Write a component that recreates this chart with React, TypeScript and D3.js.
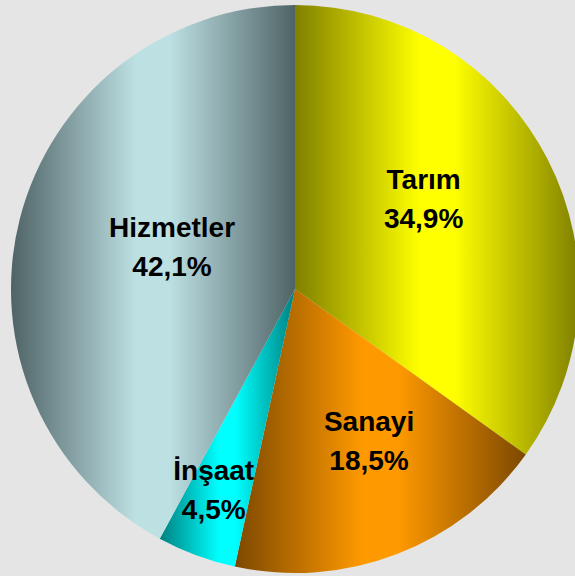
import React from "react";
import * as d3 from "d3";

// sector shares (%)
const labels = ["Tarım", "Sanayi", "İnşaat", "Hizmetler"];
const values = [34.9, 18.5, 4.5, 42.1];
const valueText = ["34,9%", "18,5%", "4,5%", "42,1%"];

// gradient colours: edge (dark) and middle (bright)
const edgeColors = ["#808000", "#7c4800", "#008080", "#4f6366"];
const midColors = ["#ffff00", "#ff9900", "#00ffff", "#bde0e3"];

// label placement (fraction of radius, angle in degrees clockwise from top)
const labelRadius = [0.553, 0.595, 0.764, 0.458];
const labelAngle = [55, 154, 202, 289];

const W = 575;
const H = 576;
const cx = 295;
const cy = 289;
const R = 284;

export default function App() {
  const pie = d3
    .pie<number>()
    .sort(null)
    .value((d) => d)
    .startAngle(0)
    .endAngle(2 * Math.PI);
  const arcs = pie(values);
  const arc = d3.arc<d3.PieArcDatum<number>>().innerRadius(0).outerRadius(R);

  return (
    <div style={{ position: "fixed", left: 0, top: 0 }}>
      <svg width={W} height={H} style={{ display: "block" }}>
        <defs>
          {arcs.map((_, i) => (
            <linearGradient key={i} id={`grad${i}`} x1="0" y1="0" x2="1" y2="0">
              <stop offset="0" stopColor={edgeColors[i]} />
              <stop offset="0.44" stopColor={midColors[i]} />
              <stop offset="0.56" stopColor={midColors[i]} />
              <stop offset="1" stopColor={edgeColors[i]} />
            </linearGradient>
          ))}
        </defs>
        <rect width={W} height={H} fill="#e5e5e5" />
        <g transform={`translate(${cx},${cy})`}>
          {arcs.map((a, i) => (
            <path key={i} d={arc(a) || ""} fill={`url(#grad${i})`} />
          ))}
          {arcs.map((a, i) => {
            const ang = (labelAngle[i] * Math.PI) / 180;
            const r = labelRadius[i] * R;
            const x = r * Math.sin(ang);
            const y = -r * Math.cos(ang);
            return (
              <text
                key={`t${i}`}
                x={x}
                y={y}
                textAnchor="middle"
                fontFamily="'Liberation Sans', Arial, sans-serif"
                fontWeight="bold"
                fontSize={28}
                fill="#000"
              >
                <tspan x={x} dy={-10}>
                  {labels[i]}
                </tspan>
                <tspan x={x} dy={39}>
                  {valueText[i]}
                </tspan>
              </text>
            );
          })}
        </g>
      </svg>
    </div>
  );
}
